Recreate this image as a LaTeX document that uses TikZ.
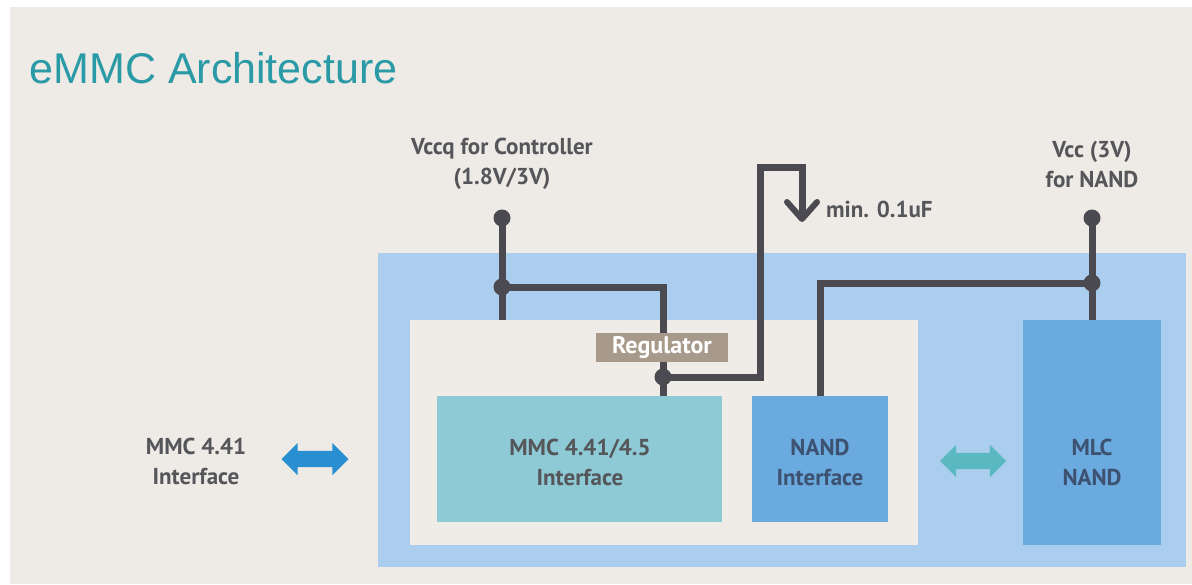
\documentclass[tikz,border=0pt]{standalone}
\usepackage{fontspec}
\setmainfont{Liberation Sans}
\newfontfamily\dinfont{PT Sans}
\usepackage{tikz}
\usetikzlibrary{positioning, calc, arrows.meta, shapes.arrows}
\definecolor{fondo}{HTML}{EEEAE6}
\definecolor{azulclaro}{HTML}{ABCDEE}
\definecolor{interior}{HTML}{EFEBE6}
\definecolor{turquesa}{HTML}{8EC9D6}
\definecolor{azulnand}{HTML}{6AAADF}
\definecolor{cable}{HTML}{4A4A50}
\definecolor{regul}{HTML}{A89A8A}
\definecolor{titulo}{HTML}{2A9AA6}
\definecolor{texto}{HTML}{55565A}
\definecolor{textoazul}{HTML}{3D5270}
\definecolor{flechaazul}{HTML}{2A8FD0}
\definecolor{flechaturq}{HTML}{5AB8C0}

\begin{document}
\begin{tikzpicture}[
  x=1pt, y=-1pt,
  every node/.style={font=\dinfont\bfseries\fontsize{23}{30}\selectfont, text=texto},
  caja/.style={
    rectangle, inner sep=0pt, outer sep=0pt,
    align=center, draw=none
  },
  etiq/.style={align=center, inner sep=0pt},
  cable/.style={draw=cable, line width=7pt, line join=miter},
  punto/.style={circle, fill=cable, minimum size=17pt, inner sep=0pt},
  dobleflecha/.style={
    double arrow, inner sep=8pt, minimum height=67pt,
    double arrow head extend=8pt, draw=none
  }
]
  \useasboundingbox (0,0) rectangle (1192,584);
  \fill[white] (0,0) rectangle (1192,584);
  \fill[fondo] (10,7) rectangle (1192,584);

  % --- Titulo ---
  \node[anchor=west, font=\fontsize{43}{46}\selectfont, text=titulo]
    (titulo) at (26,68) {eMMC Architecture};

  % --- Cajas ---
  \node[caja, fill=azulclaro, minimum width=808pt, minimum height=314pt]
    (emmc) at (782,410) {};
  \node[caja, fill=interior, minimum width=508pt, minimum height=225pt]
    (ctrl) at (664,432.5) {};
  \node[caja, fill=turquesa, minimum width=285pt, minimum height=126pt]
    (mmcif) at (579.5,459) {};
  \node[caja, fill=azulnand, minimum width=136pt, minimum height=126pt]
    (nandif) at (820,459) {};
  \node[caja, fill=azulnand, minimum width=138pt, minimum height=225pt]
    (mlc) at (1092,432.5) {};

  % --- Puntos de alimentacion ---
  \node[punto] (vccq)   at (502,218) {};
  \node[punto] (jvccq)  at (502,287) {};
  \node[punto] (vcc)    at (1092,218) {};
  \node[punto] (jvcc)   at (1092,283) {};
  \coordinate (ctrltop) at (502,320);
  \coordinate (capa)    at (760,167);
  \coordinate (capb)    at (802,167);
  \coordinate (cap)     at (802,219);

  % --- Cables ---
  \draw[cable] (vccq.center) -- (ctrltop);
  \draw[cable] (jvccq.center) -| (mmcif.north -| 663,0);
  \node[punto] (jreg) at (663,377) {};
  \draw[cable] (jreg.center) -| (capa) -- (capb)
    -- (cap);
  \draw[draw=cable, line width=6pt, line cap=round, line join=round]
    ($(cap)+(-15,-17)$) -- (cap) -- ($(cap)+(15,-17)$);
  \draw[cable] (vcc.center) -- (mlc.north);
  \draw[cable] (jvcc.center) -| (nandif.north);

  % --- Regulador ---
  \node[caja, fill=regul, text=white, font=\dinfont\bfseries\fontsize{24}{26}\selectfont,
        minimum width=132pt, minimum height=29pt]
    (regulador) at (662,347.5) {Regulator};

  % --- Flechas dobles ---
  \node[dobleflecha, fill=flechaazul] (hostflecha) at (315,459) {};
  \node[dobleflecha, fill=flechaturq, minimum height=66pt] (nandflecha) at (973,461) {};

  % --- Etiquetas ---
  \node[etiq] (lvccq) at (502,164) {Vccq for Controller\\(1.8V/3V)};
  \node[etiq] (lvcc)  at (1092,164) {Vcc (3V)\\for NAND};
  \node[etiq, anchor=west] (lcap) at (826,209) {min. 0.1uF};
  \node[etiq] (lhost) at (196,461) {MMC 4.41\\Interface};
  \node[etiq, text=texto] (lmmcif) at (580,462) {MMC 4.41/4.5\\Interface};
  \node[etiq, text=textoazul] (lnandif) at (820,462) {NAND\\Interface};
  \node[etiq, text=textoazul] (lmlc) at (1092,462) {MLC\\NAND};
\end{tikzpicture}
\end{document}
